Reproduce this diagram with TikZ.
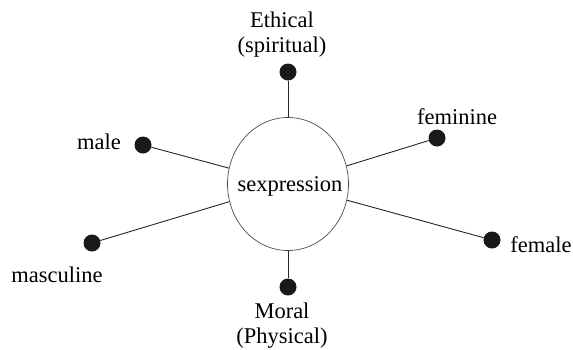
\documentclass[tikz,border=0pt]{standalone}
\usepackage{fontspec}
\setmainfont{Liberation Serif}
\usetikzlibrary{shapes.geometric}

\tikzset{
  dot/.style={circle, fill=black!90, inner sep=0pt, minimum size=17pt},
  lbl/.style={font=\fontsize{22.5}{25}\selectfont, align=center, inner sep=0pt},
  spoke/.style={draw=black!85, line width=0.9pt},
}

\begin{document}
\begin{tikzpicture}[x=1pt, y=-1pt]
  \useasboundingbox (0,0) rectangle (573,349);
  % centre
  \node[ellipse, draw=black!70, line width=0.7pt, minimum width=121pt, minimum height=133pt] (hub) at (288,184) {};
  \node[lbl] (hubtext) at (290,186) {sexpression};
  % dots
  \node[dot] (ethical) at (288,72) {};
  \node[dot] (feminine) at (437,138) {};
  \node[dot] (male) at (143,145) {};
  \node[dot] (masculine) at (92,243) {};
  \node[dot] (female) at (492,240) {};
  \node[dot] (moral) at (288,287) {};
  % labels
  \node[lbl] (ethicalL) at (282,35) {Ethical\\(spiritual)};
  \node[lbl] (feminineL) at (457,117) {feminine};
  \node[lbl] (maleL) at (99,142) {male};
  \node[lbl] (masculineL) at (57,275) {masculine};
  \node[lbl] (femaleL) at (541,245) {female};
  \node[lbl] (moralL) at (282,326) {Moral\\(Physical)};
  % spokes
  \foreach \d in {ethical,feminine,female,moral,masculine,male}
    \draw[spoke] (hub) -- (\d);
\end{tikzpicture}
\end{document}
